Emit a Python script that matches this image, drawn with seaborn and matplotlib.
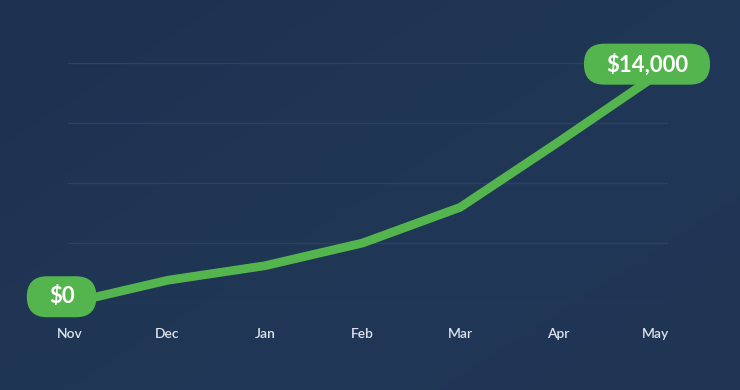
import numpy as np
import pandas as pd
import seaborn as sns
import matplotlib.pyplot as plt
from matplotlib.patches import FancyBboxPatch
from matplotlib.transforms import IdentityTransform
from matplotlib.colors import LinearSegmentedColormap

# data
months = ["Nov", "Dec", "Jan", "Feb", "Mar", "Apr", "May"]
revenue = [0, 1400, 2300, 3700, 5900, 9900, 14000]
grid_step = 3700
labelled = {0: "$0", 6: "$14,000"}

green = "#54b54e"
grid_col = "#2b4263"
tick_col = "#dde2ea"

sns.set_theme(style="white")
plt.rcParams['font.family'] = ['Lato', 'DejaVu Sans']

fig = plt.figure(figsize=(7.4, 3.9), dpi=100)

# background: soft diagonal navy gradient
bg = fig.add_axes([0, 0, 1, 1])
yy, xx = np.mgrid[0:1:200j, 0:1:380j]
diag = (xx * 0.55 + (1 - yy) * 0.45)
cmap = LinearSegmentedColormap.from_list("bg", ["#1d3150", "#1f3553", "#213757", "#203453"])
bg.imshow(diag, cmap=cmap, aspect="auto", extent=[0, 1, 0, 1], origin="lower")
bg.set_axis_off()

ax = fig.add_axes([68 / 740, 87 / 390, 600 / 740, 240 / 390])
ax.patch.set_alpha(0)

df = pd.DataFrame({"month": months, "revenue": revenue})
sns.lineplot(data=df, x="month", y="revenue", ax=ax, color=green, lw=6.3,
             clip_on=False, solid_capstyle="butt", solid_joinstyle="miter", zorder=2)

ax.set_xlim(-0.02, 6.13)
ax.set_ylim(0, 4 * grid_step)
ax.set_yticks(np.arange(0, 4 * grid_step + 1, grid_step))
ax.yaxis.grid(True, color=grid_col, lw=1)
ax.xaxis.grid(False)
ax.set_axisbelow(True)
ax.tick_params(axis="y", left=False, labelleft=False)
ax.tick_params(axis="x", bottom=False, pad=12, labelsize=10, labelcolor=tick_col)
for lab in ax.get_xticklabels():
    lab.set_fontweight("semibold")
for s in ax.spines.values():
    s.set_visible(False)
ax.set_xlabel("")
ax.set_ylabel("")

# value pills
offsets = {0: (-6, 4.5), 6: (-6, 8.5)}
renderer = fig.canvas.get_renderer()
for i, txt in labelled.items():
    t = ax.annotate(txt, (i, revenue[i]), xytext=offsets[i], textcoords="offset points",
                    ha="center", va="center", fontsize=16, color="white",
                    fontweight="bold", zorder=4, annotation_clip=False)
    bb = t.get_window_extent(renderer)
    cx, cy = (bb.x0 + bb.x1) / 2, (bb.y0 + bb.y1) / 2
    w, h = bb.width + 44, 41
    pill = FancyBboxPatch((cx - w / 2, cy - h / 2), w, h,
                          boxstyle=f"round,pad=0,rounding_size={h / 2}",
                          transform=IdentityTransform(), facecolor=green,
                          edgecolor="none", zorder=3, clip_on=False)
    ax.add_artist(pill)

fig.savefig("out.png", dpi=100)
